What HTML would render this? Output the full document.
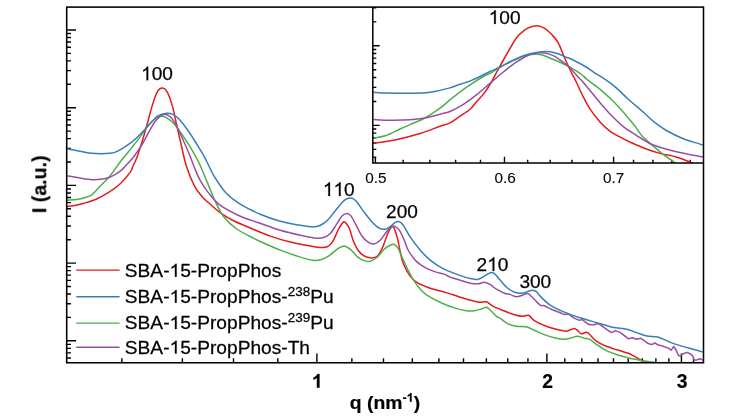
<!DOCTYPE html>
<html><head><meta charset="utf-8"><title>SAXS</title>
<style>html,body{margin:0;padding:0;background:#fff;}body{width:747px;height:420px;overflow:hidden;font-family:"Liberation Sans",sans-serif;}</style></head>
<body>
<svg width="747" height="420" viewBox="0 0 747 420" style="display:block">
<defs><clipPath id="cm"><rect x="66.7" y="7.1" width="636.8" height="355.4"/></clipPath>
<clipPath id="ci"><rect x="372.8" y="7.1" width="330.7" height="155.9"/></clipPath></defs>
<rect x="0" y="0" width="747" height="420" fill="#fff"/>
<path d="M67 30.00 H76 M67 84.31 H71.0 M67 70.63 H71.0 M67 60.92 H71.0 M67 53.39 H71.0 M67 47.24 H71.0 M67 42.04 H71.0 M67 37.53 H71.0 M67 33.56 H71.0 M67 107.70 H76 M67 162.01 H71.0 M67 148.33 H71.0 M67 138.62 H71.0 M67 131.09 H71.0 M67 124.94 H71.0 M67 119.74 H71.0 M67 115.23 H71.0 M67 111.26 H71.0 M67 185.40 H76 M67 239.71 H71.0 M67 226.03 H71.0 M67 216.32 H71.0 M67 208.79 H71.0 M67 202.64 H71.0 M67 197.44 H71.0 M67 192.93 H71.0 M67 188.96 H71.0 M67 263.10 H76 M67 317.41 H71.0 M67 303.73 H71.0 M67 294.02 H71.0 M67 286.49 H71.0 M67 280.34 H71.0 M67 275.14 H71.0 M67 270.63 H71.0 M67 266.66 H71.0 M67 340.80 H76 M67 358.04 H71.0 M67 352.84 H71.0 M67 348.33 H71.0 M67 344.36 H71.0 M121.87 362.75 V358.2 M182.37 362.75 V358.2 M233.51 362.75 V358.2 M277.82 362.75 V358.2 M316.90 362.75 V353.5 M351.86 362.75 V358.2 M383.48 362.75 V358.2 M412.35 362.75 V358.2 M438.91 362.75 V358.2 M463.50 362.75 V358.2 M486.39 362.75 V358.2 M507.81 362.75 V358.2 M527.92 362.75 V358.2 M546.89 362.75 V353.5 M564.83 362.75 V358.2 M581.85 362.75 V358.2 M598.03 362.75 V358.2 M613.47 362.75 V358.2 M628.22 362.75 V358.2 M642.34 362.75 V358.2 M655.88 362.75 V358.2 M668.90 362.75 V358.2 M681.42 362.75 V353.5 M693.49 362.75 V358.2" stroke="#000" stroke-width="1.40" fill="none"/>
<path d="M67.00 206.60 C68.52 206.37 73.25 205.77 76.10 205.20 C78.95 204.63 80.77 204.20 84.10 203.20 C87.43 202.20 92.08 200.97 96.10 199.20 C100.12 197.43 104.18 195.18 108.20 192.60 C112.22 190.02 116.52 187.12 120.20 183.70 C123.88 180.28 128.17 175.05 130.30 172.10 C132.43 169.15 132.00 168.18 133.00 166.00 C134.00 163.82 135.08 162.08 136.30 159.00 C137.52 155.92 138.63 152.80 140.30 147.50 C141.97 142.20 144.28 134.27 146.30 127.20 C148.32 120.13 150.55 111.03 152.40 105.10 C154.25 99.17 155.73 94.45 157.40 91.60 C159.07 88.75 160.73 87.87 162.40 88.00 C164.07 88.13 165.73 89.38 167.40 92.40 C169.07 95.42 170.88 100.80 172.40 106.10 C173.92 111.40 174.98 117.52 176.50 124.20 C178.02 130.88 179.83 139.15 181.50 146.20 C183.17 153.25 184.33 159.85 186.50 166.50 C188.67 173.15 191.82 180.98 194.50 186.10 C197.18 191.22 200.02 194.22 202.60 197.20 C205.18 200.18 207.08 201.43 210.00 204.00 C212.92 206.57 216.42 209.93 220.10 212.60 C223.78 215.27 227.08 217.43 232.10 220.00 C237.12 222.57 243.83 225.32 250.20 228.00 C256.57 230.68 263.60 233.75 270.30 236.10 C277.00 238.45 283.72 240.43 290.40 242.10 C297.08 243.77 305.38 245.20 310.40 246.10 C315.42 247.00 317.48 247.50 320.50 247.50 C323.52 247.50 326.33 247.33 328.50 246.10 C330.67 244.87 331.82 242.95 333.50 240.10 C335.18 237.25 336.92 232.02 338.60 229.00 C340.28 225.98 342.27 222.83 343.60 222.00 C344.93 221.17 345.60 222.83 346.60 224.00 C347.60 225.17 348.52 226.30 349.60 229.00 C350.68 231.70 351.68 236.65 353.10 240.20 C354.52 243.75 356.27 247.68 358.10 250.30 C359.93 252.92 361.92 254.63 364.10 255.90 C366.28 257.17 369.02 257.83 371.20 257.90 C373.38 257.97 375.37 257.90 377.20 256.30 C379.03 254.70 380.78 251.18 382.20 248.30 C383.62 245.42 384.67 241.70 385.70 239.00 C386.73 236.30 387.50 234.02 388.40 232.10 C389.30 230.18 390.38 228.37 391.10 227.50 C391.82 226.63 392.15 226.70 392.70 226.90 C393.25 227.10 393.78 227.38 394.40 228.70 C395.02 230.02 395.77 232.67 396.40 234.80 C397.03 236.93 397.52 238.47 398.20 241.50 C398.88 244.53 399.62 249.25 400.50 253.00 C401.38 256.75 401.90 260.15 403.50 264.00 C405.10 267.85 407.67 272.90 410.10 276.10 C412.53 279.30 414.75 281.18 418.10 283.20 C421.45 285.22 425.52 286.63 430.20 288.20 C434.88 289.77 441.18 291.10 446.20 292.60 C451.22 294.10 455.62 295.77 460.30 297.20 C464.98 298.63 470.95 300.37 474.30 301.20 C477.65 302.03 478.38 302.10 480.40 302.20 C482.42 302.30 484.40 301.18 486.40 301.80 C488.40 302.42 489.73 304.48 492.40 305.90 C495.07 307.32 498.72 308.83 502.40 310.30 C506.08 311.77 511.15 313.70 514.50 314.70 C517.85 315.70 520.15 316.20 522.50 316.30 C524.85 316.40 526.63 314.57 528.60 315.30 C530.57 316.03 531.37 318.88 534.30 320.70 C537.23 322.52 542.22 324.68 546.20 326.20 C550.18 327.72 554.85 328.97 558.20 329.80 C561.55 330.63 564.28 331.20 566.30 331.20 C568.32 331.20 568.97 330.23 570.30 329.80 C571.63 329.37 573.13 328.53 574.30 328.60 C575.47 328.67 576.13 329.33 577.30 330.20 C578.47 331.07 579.80 333.47 581.30 333.80 C582.80 334.13 584.95 332.13 586.30 332.20 C587.65 332.27 587.72 332.70 589.40 334.20 C591.08 335.70 593.57 339.18 596.40 341.20 C599.23 343.22 602.72 344.78 606.40 346.30 C610.08 347.82 614.82 349.13 618.50 350.30 C622.18 351.47 625.83 352.30 628.50 353.30 C631.17 354.30 632.48 355.20 634.50 356.30 C636.52 357.40 638.92 358.97 640.60 359.90 C642.28 360.83 643.08 361.38 644.60 361.90 C646.12 362.42 648.85 362.82 649.70 363.00" fill="none" stroke="#e41a1c" stroke-width="1.50" stroke-linejoin="round" clip-path="url(#cm)"/>
<path d="M67.00 200.20 C68.85 200.03 74.92 199.70 78.10 199.20 C81.28 198.70 83.77 197.97 86.10 197.20 C88.43 196.43 89.75 196.45 92.10 194.60 C94.45 192.75 97.18 189.25 100.20 186.10 C103.22 182.95 106.87 179.72 110.20 175.70 C113.53 171.68 117.02 166.17 120.20 162.00 C123.38 157.83 125.95 154.93 129.30 150.70 C132.65 146.47 137.12 140.85 140.30 136.60 C143.48 132.35 145.88 128.22 148.40 125.20 C150.92 122.18 153.23 120.02 155.40 118.50 C157.57 116.98 159.57 116.23 161.40 116.10 C163.23 115.97 164.22 116.35 166.40 117.70 C168.58 119.05 171.48 120.78 174.50 124.20 C177.52 127.62 181.17 133.18 184.50 138.20 C187.83 143.22 191.92 149.83 194.50 154.30 C197.08 158.77 197.75 160.03 200.00 165.00 C202.25 169.97 205.32 177.73 208.00 184.10 C210.68 190.47 213.42 197.68 216.10 203.20 C218.78 208.72 220.77 212.98 224.10 217.20 C227.43 221.42 231.75 225.28 236.10 228.50 C240.45 231.72 246.18 234.33 250.20 236.50 C254.22 238.67 255.18 239.23 260.20 241.50 C265.22 243.77 273.60 247.50 280.30 250.10 C287.00 252.70 295.05 255.42 300.40 257.10 C305.75 258.78 309.05 259.75 312.40 260.20 C315.75 260.65 317.82 260.48 320.50 259.80 C323.18 259.12 325.75 257.85 328.50 256.10 C331.25 254.35 334.40 250.98 337.00 249.30 C339.60 247.62 341.92 246.02 344.10 246.00 C346.28 245.98 347.77 247.32 350.10 249.20 C352.43 251.08 355.60 255.35 358.10 257.30 C360.60 259.25 363.08 260.23 365.10 260.90 C367.12 261.57 368.18 261.90 370.20 261.30 C372.22 260.70 374.87 259.30 377.20 257.30 C379.53 255.30 382.03 251.32 384.20 249.30 C386.37 247.28 388.53 246.00 390.20 245.20 C391.87 244.40 392.90 244.00 394.20 244.50 C395.50 245.00 396.70 246.08 398.00 248.20 C399.30 250.32 400.32 253.55 402.00 257.20 C403.68 260.85 406.08 266.10 408.10 270.10 C410.12 274.10 411.77 277.68 414.10 281.20 C416.43 284.72 419.42 288.53 422.10 291.20 C424.78 293.87 426.85 295.18 430.20 297.20 C433.55 299.22 438.18 301.52 442.20 303.30 C446.22 305.08 450.28 306.67 454.30 307.90 C458.32 309.13 462.97 310.23 466.30 310.70 C469.63 311.17 471.95 310.93 474.30 310.70 C476.65 310.47 478.38 309.87 480.40 309.30 C482.42 308.73 484.73 307.13 486.40 307.30 C488.07 307.47 488.73 308.80 490.40 310.30 C492.07 311.80 494.80 314.98 496.40 316.30 C498.00 317.62 498.07 316.95 500.00 318.20 C501.93 319.45 505.32 322.47 508.00 323.80 C510.68 325.13 513.08 325.70 516.10 326.20 C519.12 326.70 523.10 326.13 526.10 326.80 C529.10 327.47 531.08 328.90 534.10 330.20 C537.12 331.50 540.52 333.27 544.20 334.60 C547.88 335.93 552.85 337.43 556.20 338.20 C559.55 338.97 561.95 339.20 564.30 339.20 C566.65 339.20 568.13 338.70 570.30 338.20 C572.47 337.70 574.97 336.20 577.30 336.20 C579.63 336.20 582.28 337.70 584.30 338.20 C586.32 338.70 587.38 338.18 589.40 339.20 C591.42 340.22 593.57 342.38 596.40 344.30 C599.23 346.22 602.72 348.87 606.40 350.70 C610.08 352.53 614.82 354.10 618.50 355.30 C622.18 356.50 625.15 357.13 628.50 357.90 C631.85 358.67 635.58 359.33 638.60 359.90 C641.62 360.47 643.42 360.78 646.60 361.30 C649.78 361.82 655.85 362.72 657.70 363.00" fill="none" stroke="#4daf4a" stroke-width="1.50" stroke-linejoin="round" clip-path="url(#cm)"/>
<path d="M67.00 175.80 C69.18 176.18 75.92 177.45 80.10 178.10 C84.28 178.75 88.42 179.53 92.10 179.70 C95.78 179.87 99.18 179.53 102.20 179.10 C105.22 178.67 107.20 178.43 110.20 177.10 C113.20 175.77 117.18 173.43 120.20 171.10 C123.22 168.77 125.95 165.62 128.30 163.10 C130.65 160.58 131.97 159.15 134.30 156.00 C136.63 152.85 139.62 148.67 142.30 144.20 C144.98 139.73 148.05 133.28 150.40 129.20 C152.75 125.12 154.23 122.15 156.40 119.70 C158.57 117.25 161.23 115.10 163.40 114.50 C165.57 113.90 167.55 114.82 169.40 116.10 C171.25 117.38 172.65 119.18 174.50 122.20 C176.35 125.22 178.17 129.18 180.50 134.20 C182.83 139.22 186.17 146.72 188.50 152.30 C190.83 157.88 192.58 163.07 194.50 167.70 C196.42 172.33 197.75 176.03 200.00 180.10 C202.25 184.17 204.65 187.92 208.00 192.10 C211.35 196.28 214.73 201.18 220.10 205.20 C225.47 209.22 233.52 213.18 240.20 216.20 C246.88 219.22 253.52 220.95 260.20 223.30 C266.88 225.65 273.60 228.30 280.30 230.30 C287.00 232.30 294.37 233.97 300.40 235.30 C306.43 236.63 312.48 237.97 316.50 238.30 C320.52 238.63 322.17 238.13 324.50 237.30 C326.83 236.47 328.58 235.32 330.50 233.30 C332.42 231.28 334.08 228.07 336.00 225.20 C337.92 222.33 340.15 218.05 342.00 216.10 C343.85 214.15 345.58 213.50 347.10 213.50 C348.62 213.50 349.60 214.15 351.10 216.10 C352.60 218.05 354.27 221.85 356.10 225.20 C357.93 228.55 360.08 233.37 362.10 236.20 C364.12 239.03 366.18 240.92 368.20 242.20 C370.22 243.48 372.20 244.23 374.20 243.90 C376.20 243.57 378.20 242.15 380.20 240.20 C382.20 238.25 384.37 234.47 386.20 232.20 C388.03 229.93 389.68 227.53 391.20 226.60 C392.72 225.67 393.95 226.00 395.30 226.60 C396.65 227.20 397.80 227.93 399.30 230.20 C400.80 232.47 402.83 236.90 404.30 240.20 C405.77 243.50 406.13 246.52 408.10 250.00 C410.07 253.48 413.10 258.08 416.10 261.10 C419.10 264.12 422.75 266.27 426.10 268.10 C429.45 269.93 433.18 271.10 436.20 272.10 C439.22 273.10 441.87 273.27 444.20 274.10 C446.53 274.93 447.52 276.08 450.20 277.10 C452.88 278.12 456.95 279.18 460.30 280.20 C463.65 281.22 467.28 282.60 470.30 283.20 C473.32 283.80 476.05 283.97 478.40 283.80 C480.75 283.63 482.40 282.07 484.40 282.20 C486.40 282.33 488.40 283.43 490.40 284.60 C492.40 285.77 494.05 287.77 496.40 289.20 C498.75 290.63 502.15 292.30 504.50 293.20 C506.85 294.10 508.50 294.00 510.50 294.60 C512.50 295.20 514.50 296.70 516.50 296.80 C518.50 296.90 520.65 295.73 522.50 295.20 C524.35 294.67 525.92 293.22 527.60 293.60 C529.28 293.98 530.50 295.58 532.60 297.50 C534.70 299.42 538.27 303.73 540.20 305.10 C542.13 306.47 542.20 304.93 544.20 305.70 C546.20 306.47 549.53 308.53 552.20 309.70 C554.87 310.87 558.18 311.90 560.20 312.70 C562.22 313.50 562.95 314.27 564.30 314.50 C565.65 314.73 566.63 313.48 568.30 314.10 C569.97 314.72 572.47 317.18 574.30 318.20 C576.13 319.22 577.97 319.93 579.30 320.20 C580.63 320.47 580.78 319.13 582.30 319.80 C583.82 320.47 586.38 323.40 588.40 324.20 C590.42 325.00 592.73 324.70 594.40 324.60 C596.07 324.50 597.73 323.77 598.40 323.60 L611.40 332.60 L615.50 330.60 L620.50 332.60 L628.50 338.80 L632.50 337.80 L636.50 339.20 L640.60 338.20 L644.60 340.80 L647.00 342.80 L649.70 344.10 L652.40 344.40 L655.00 342.80 L657.70 344.80 L660.40 345.40 L664.40 346.80 L668.40 348.10 L671.10 350.10 L673.80 346.50 L675.80 349.50 L678.50 355.50 L680.50 356.10 L683.10 353.70 L687.20 352.40 L691.20 354.50 L693.20 356.80 L694.10 360.20 L697.20 359.80 L700.50 358.80 L703.20 360.40" fill="none" stroke="#984ea3" stroke-width="1.50" stroke-linejoin="round" clip-path="url(#cm)"/>
<path d="M67.00 148.80 C69.18 149.22 76.08 150.55 80.10 151.30 C84.12 152.05 86.08 152.97 91.10 153.30 C96.12 153.63 105.68 153.70 110.20 153.30 C114.72 152.90 114.85 152.58 118.20 150.90 C121.55 149.22 126.62 145.98 130.30 143.20 C133.98 140.42 136.95 137.53 140.30 134.20 C143.65 130.87 147.38 126.28 150.40 123.20 C153.42 120.12 155.73 117.35 158.40 115.70 C161.07 114.05 164.07 113.57 166.40 113.30 C168.73 113.03 170.38 113.23 172.40 114.10 C174.42 114.97 175.82 115.65 178.50 118.50 C181.18 121.35 184.82 125.90 188.50 131.20 C192.18 136.50 197.68 145.50 200.60 150.30 C203.52 155.10 203.75 155.70 206.00 160.00 C208.25 164.30 210.75 170.58 214.10 176.10 C217.45 181.62 221.75 188.42 226.10 193.10 C230.45 197.78 234.52 200.68 240.20 204.20 C245.88 207.72 253.52 211.37 260.20 214.20 C266.88 217.03 273.60 219.35 280.30 221.20 C287.00 223.05 295.05 224.35 300.40 225.30 C305.75 226.25 309.05 226.90 312.40 226.90 C315.75 226.90 317.82 226.58 320.50 225.30 C323.18 224.02 325.83 221.88 328.50 219.20 C331.17 216.52 333.82 212.37 336.50 209.20 C339.18 206.03 342.17 202.05 344.60 200.20 C347.03 198.35 349.18 197.95 351.10 198.10 C353.02 198.25 353.93 198.77 356.10 201.10 C358.27 203.43 361.42 208.58 364.10 212.10 C366.78 215.62 369.68 219.52 372.20 222.20 C374.72 224.88 377.03 227.03 379.20 228.20 C381.37 229.37 383.37 229.47 385.20 229.20 C387.03 228.93 388.52 227.73 390.20 226.60 C391.88 225.47 393.78 223.23 395.30 222.40 C396.82 221.57 397.97 221.13 399.30 221.60 C400.63 222.07 401.47 222.60 403.30 225.20 C405.13 227.80 407.50 233.07 410.30 237.20 C413.10 241.33 416.78 246.18 420.10 250.00 C423.42 253.82 426.52 257.08 430.20 260.10 C433.88 263.12 437.85 265.77 442.20 268.10 C446.55 270.43 451.62 272.35 456.30 274.10 C460.98 275.85 466.62 277.75 470.30 278.60 C473.98 279.45 476.05 279.62 478.40 279.20 C480.75 278.78 482.40 277.18 484.40 276.10 C486.40 275.02 488.73 273.10 490.40 272.70 C492.07 272.30 492.90 272.62 494.40 273.70 C495.90 274.78 497.38 276.95 499.40 279.20 C501.42 281.45 503.98 285.03 506.50 287.20 C509.02 289.37 511.83 291.20 514.50 292.20 C517.17 293.20 520.15 293.37 522.50 293.20 C524.85 293.03 526.92 291.70 528.60 291.20 C530.28 290.70 531.27 290.10 532.60 290.20 C533.93 290.30 535.33 290.82 536.60 291.80 C537.87 292.78 537.93 293.88 540.20 296.10 C542.47 298.32 546.18 302.43 550.20 305.10 C554.22 307.77 559.28 309.98 564.30 312.10 C569.32 314.22 574.95 316.05 580.30 317.80 C585.65 319.55 591.05 321.03 596.40 322.60 C601.75 324.17 607.38 326.10 612.40 327.20 C617.42 328.30 622.48 328.30 626.50 329.20 C630.52 330.10 633.08 331.45 636.50 332.60 C639.92 333.75 643.47 335.35 647.00 336.10 C650.53 336.85 653.90 336.10 657.70 337.10 C661.50 338.10 665.78 340.60 669.80 342.10 C673.82 343.60 677.78 344.87 681.80 346.10 C685.82 347.33 690.33 348.50 693.90 349.50 C697.47 350.50 701.65 351.67 703.20 352.10" fill="none" stroke="#377eb8" stroke-width="1.50" stroke-linejoin="round" clip-path="url(#cm)"/>
<rect x="372.8" y="7.1" width="330.7" height="155.9" fill="#fff"/>
<path d="M373 21.84 H376.3 M373 7.82 H376.3 M373 45.80 H379.7 M373 101.44 H376.3 M373 87.42 H376.3 M373 77.48 H376.3 M373 69.76 H376.3 M373 63.46 H376.3 M373 58.13 H376.3 M373 53.51 H376.3 M373 49.44 H376.3 M373 125.40 H379.7 M373 157.08 H376.3 M373 149.36 H376.3 M373 143.06 H376.3 M373 137.73 H376.3 M373 133.11 H376.3 M373 129.04 H376.3 M375.40 163 V156.7 M403.16 163 V159.8 M429.88 163 V159.8 M455.63 163 V159.8 M480.47 163 V159.8 M504.47 163 V156.7 M527.68 163 V159.8 M550.15 163 V159.8 M571.94 163 V159.8 M593.07 163 V159.8 M613.59 163 V156.7 M633.53 163 V159.8 M652.93 163 V159.8 M671.81 163 V159.8 M690.19 163 V159.8" stroke="#000" stroke-width="1.40" fill="none"/>
<path d="M373.50 143.20 C377.08 142.67 387.25 141.62 395.00 140.00 C402.75 138.38 412.50 135.78 420.00 133.50 C427.50 131.22 435.00 128.08 440.00 126.30 C445.00 124.52 446.65 124.48 450.00 122.80 C453.35 121.12 456.75 118.47 460.10 116.20 C463.45 113.93 467.43 111.53 470.10 109.20 C472.77 106.87 473.75 104.88 476.10 102.20 C478.45 99.52 481.80 96.22 484.20 93.10 C486.60 89.98 488.18 87.43 490.50 83.50 C492.82 79.57 495.80 73.67 498.10 69.50 C500.40 65.33 501.28 63.72 504.30 58.50 C507.32 53.28 512.72 43.00 516.20 38.20 C519.68 33.40 522.53 31.65 525.20 29.70 C527.87 27.75 530.18 27.17 532.20 26.50 C534.22 25.83 535.28 25.43 537.30 25.70 C539.32 25.97 541.80 26.53 544.30 28.10 C546.80 29.67 549.95 32.58 552.30 35.10 C554.65 37.62 556.38 39.47 558.40 43.20 C560.42 46.93 562.40 52.95 564.40 57.50 C566.40 62.05 568.38 66.33 570.40 70.50 C572.42 74.67 574.52 78.42 576.50 82.50 C578.48 86.58 580.03 90.55 582.30 95.00 C584.57 99.45 587.12 104.67 590.10 109.20 C593.08 113.73 596.85 118.52 600.20 122.20 C603.55 125.88 606.87 128.80 610.20 131.30 C613.53 133.80 616.85 135.38 620.20 137.20 C623.55 139.02 625.83 140.20 630.30 142.20 C634.77 144.20 641.88 147.30 647.00 149.20 C652.12 151.10 656.00 152.27 661.00 153.60 C666.00 154.93 671.58 155.55 677.00 157.20 C682.42 158.85 690.75 162.45 693.50 163.50" fill="none" stroke="#e41a1c" stroke-width="1.50" stroke-linejoin="round" clip-path="url(#ci)"/>
<path d="M373.50 138.20 C375.58 137.75 381.58 137.03 386.00 135.50 C390.42 133.97 395.67 130.97 400.00 129.00 C404.33 127.03 407.83 125.53 412.00 123.70 C416.17 121.87 420.33 120.58 425.00 118.00 C429.67 115.42 435.50 111.50 440.00 108.20 C444.50 104.90 447.32 101.88 452.00 98.20 C456.68 94.52 462.73 89.80 468.10 86.10 C473.47 82.40 480.53 78.13 484.20 76.00 C487.87 73.87 487.12 74.97 490.10 73.30 C493.08 71.63 497.75 68.45 502.10 66.00 C506.45 63.55 511.85 60.47 516.20 58.60 C520.55 56.73 524.85 55.53 528.20 54.80 C531.55 54.07 533.95 54.17 536.30 54.20 C538.65 54.23 539.97 54.33 542.30 55.00 C544.63 55.67 547.35 57.00 550.30 58.20 C553.25 59.40 556.72 60.70 560.00 62.20 C563.28 63.70 566.67 65.33 570.00 67.20 C573.33 69.07 577.32 71.50 580.00 73.40 C582.68 75.30 584.02 76.90 586.10 78.60 C588.18 80.30 589.82 81.52 592.50 83.60 C595.18 85.68 598.58 88.00 602.20 91.10 C605.82 94.20 610.52 98.52 614.20 102.20 C617.88 105.88 620.95 109.35 624.30 113.20 C627.65 117.05 632.02 122.42 634.30 125.30 C636.58 128.18 636.67 128.67 638.00 130.50 C639.33 132.33 640.25 134.13 642.30 136.30 C644.35 138.47 646.97 140.60 650.30 143.50 C653.63 146.40 658.02 150.37 662.30 153.70 C666.58 157.03 673.72 161.87 676.00 163.50" fill="none" stroke="#4daf4a" stroke-width="1.50" stroke-linejoin="round" clip-path="url(#ci)"/>
<path d="M373.50 119.50 C376.25 119.62 383.92 120.15 390.00 120.20 C396.08 120.25 404.17 120.17 410.00 119.80 C415.83 119.43 420.00 118.93 425.00 118.00 C430.00 117.07 435.83 115.28 440.00 114.20 C444.17 113.12 446.32 113.00 450.00 111.50 C453.68 110.00 457.75 107.93 462.10 105.20 C466.45 102.47 471.42 98.78 476.10 95.10 C480.78 91.42 485.87 86.78 490.20 83.10 C494.53 79.42 497.77 76.48 502.10 73.00 C506.43 69.52 511.85 65.17 516.20 62.20 C520.55 59.23 524.52 56.77 528.20 55.20 C531.88 53.63 535.28 53.13 538.30 52.80 C541.32 52.47 543.63 52.63 546.30 53.20 C548.97 53.77 551.95 55.03 554.30 56.20 C556.65 57.37 558.05 58.52 560.40 60.20 C562.75 61.88 566.47 64.67 568.40 66.30 C570.33 67.93 570.33 68.17 572.00 70.00 C573.67 71.83 576.72 75.45 578.40 77.30 C580.08 79.15 579.82 78.47 582.10 81.10 C584.38 83.73 588.75 89.08 592.10 93.10 C595.45 97.12 598.85 101.35 602.20 105.20 C605.55 109.05 608.52 112.52 612.20 116.20 C615.88 119.88 620.28 124.12 624.30 127.30 C628.32 130.48 632.15 132.65 636.30 135.30 C640.45 137.95 644.42 140.95 649.20 143.20 C653.98 145.45 659.87 147.25 665.00 148.80 C670.13 150.35 673.67 151.12 680.00 152.50 C686.33 153.88 699.17 156.33 703.00 157.10" fill="none" stroke="#984ea3" stroke-width="1.50" stroke-linejoin="round" clip-path="url(#ci)"/>
<path d="M373.50 92.20 C375.58 92.35 380.92 92.93 386.00 93.10 C391.08 93.27 398.00 93.20 404.00 93.20 C410.00 93.20 416.67 93.42 422.00 93.10 C427.33 92.78 431.33 92.17 436.00 91.30 C440.67 90.43 446.65 88.83 450.00 87.90 C453.35 86.97 452.42 87.00 456.10 85.70 C459.78 84.40 466.45 82.47 472.10 80.10 C477.75 77.73 485.32 73.68 490.00 71.50 C494.68 69.32 496.83 68.58 500.20 67.00 C503.57 65.42 507.52 63.30 510.20 62.00 C512.88 60.70 513.97 60.30 516.30 59.20 C518.63 58.10 520.87 56.53 524.20 55.40 C527.53 54.27 532.45 53.03 536.30 52.40 C540.15 51.77 543.97 51.47 547.30 51.60 C550.63 51.73 553.12 52.27 556.30 53.20 C559.48 54.13 563.43 55.98 566.40 57.20 C569.37 58.42 570.82 58.87 574.10 60.50 C577.38 62.13 582.70 64.95 586.10 67.00 C589.50 69.05 592.15 71.28 594.50 72.80 C596.85 74.32 596.92 73.88 600.20 76.10 C603.48 78.32 609.52 82.25 614.20 86.10 C618.88 89.95 623.62 95.02 628.30 99.20 C632.98 103.38 637.95 107.37 642.30 111.20 C646.65 115.03 650.40 118.98 654.40 122.20 C658.40 125.42 661.28 127.65 666.30 130.50 C671.32 133.35 679.12 137.12 684.50 139.30 C689.88 141.48 695.52 142.63 698.60 143.60 C701.68 144.57 702.27 144.85 703.00 145.10" fill="none" stroke="#377eb8" stroke-width="1.50" stroke-linejoin="round" clip-path="url(#ci)"/>
<path d="M372.8 7.1 V163 H703.5" stroke="#000" stroke-width="1.5" fill="none"/>
<rect x="66.7" y="7.1" width="636.8" height="355.65" fill="none" stroke="#000" stroke-width="1.55"/>
<path d="M76.2 270.10 H119.6" stroke="#e41a1c" stroke-width="1.45"/>
<path d="M76.2 296.80 H119.6" stroke="#377eb8" stroke-width="1.45"/>
<path d="M76.2 323.10 H119.6" stroke="#4daf4a" stroke-width="1.45"/>
<path d="M76.2 347.20 H119.6" stroke="#984ea3" stroke-width="1.45"/>
<g opacity="0.999">
<g transform="translate(124.80 276.70) scale(1.0700 1)" fill="#000" stroke="#000" stroke-width="0.25" stroke-linejoin="round">
<path d="M763 0H583V1147Q518 1085 412.5 1023Q307 961 223 930V1104Q374 1175 487 1276Q600 1377 647 1472H763Z" transform="translate(41.78 0.00) scale(0.00874 -0.00874)" stroke-width="28.6"/>
<text x="0.00 11.94 23.88 35.82 51.73 61.69 67.65 79.59 85.55 95.50 105.46 117.40 127.35 137.31" y="0.00" font-family="Liberation Sans, sans-serif" font-size="17.90">SBA-5-PropPhos</text>
</g>
<g transform="translate(124.80 302.80) scale(1.0700 1)" fill="#000" stroke="#000" stroke-width="0.25" stroke-linejoin="round">
<path d="M763 0H583V1147Q518 1085 412.5 1023Q307 961 223 930V1104Q374 1175 487 1276Q600 1377 647 1472H763Z" transform="translate(41.78 0.00) scale(0.00874 -0.00874)" stroke-width="28.6"/>
<text x="0.00 11.94 23.88 35.82 51.73 61.69 67.65 79.59 85.55 95.50 105.46 117.40 127.35 137.31 146.26" y="0.00" font-family="Liberation Sans, sans-serif" font-size="17.90">SBA-5-PropPhos-</text>
<text x="152.22 159.23 166.23" y="-7.00" font-family="Liberation Sans, sans-serif" font-size="12.60">238</text>
<text x="173.24 185.18" y="0.00" font-family="Liberation Sans, sans-serif" font-size="17.90">Pu</text>
</g>
<g transform="translate(124.80 329.00) scale(1.0700 1)" fill="#000" stroke="#000" stroke-width="0.25" stroke-linejoin="round">
<path d="M763 0H583V1147Q518 1085 412.5 1023Q307 961 223 930V1104Q374 1175 487 1276Q600 1377 647 1472H763Z" transform="translate(41.78 0.00) scale(0.00874 -0.00874)" stroke-width="28.6"/>
<text x="0.00 11.94 23.88 35.82 51.73 61.69 67.65 79.59 85.55 95.50 105.46 117.40 127.35 137.31 146.26" y="0.00" font-family="Liberation Sans, sans-serif" font-size="17.90">SBA-5-PropPhos-</text>
<text x="152.22 159.23 166.23" y="-7.00" font-family="Liberation Sans, sans-serif" font-size="12.60">239</text>
<text x="173.24 185.18" y="0.00" font-family="Liberation Sans, sans-serif" font-size="17.90">Pu</text>
</g>
<g transform="translate(124.80 353.50) scale(1.0700 1)" fill="#000" stroke="#000" stroke-width="0.25" stroke-linejoin="round">
<path d="M763 0H583V1147Q518 1085 412.5 1023Q307 961 223 930V1104Q374 1175 487 1276Q600 1377 647 1472H763Z" transform="translate(41.78 0.00) scale(0.00874 -0.00874)" stroke-width="28.6"/>
<text x="0.00 11.94 23.88 35.82 51.73 61.69 67.65 79.59 85.55 95.50 105.46 117.40 127.35 137.31 146.26 152.22 163.15" y="0.00" font-family="Liberation Sans, sans-serif" font-size="17.90">SBA-5-PropPhos-Th</text>
</g>
<g transform="translate(157.00 80.30) scale(1.0000 1)" fill="#000" stroke="#000" stroke-width="0.25" stroke-linejoin="round">
<path d="M763 0H583V1147Q518 1085 412.5 1023Q307 961 223 930V1104Q374 1175 487 1276Q600 1377 647 1472H763Z" transform="translate(-15.93 0.00) scale(0.00933 -0.00933)" stroke-width="26.8"/>
<text x="-5.31 5.31" y="0.00" font-family="Liberation Sans, sans-serif" font-size="19.10">00</text>
</g>
<g transform="translate(338.80 195.90) scale(1.0000 1)" fill="#000" stroke="#000" stroke-width="0.25" stroke-linejoin="round">
<path d="M763 0H583V1147Q518 1085 412.5 1023Q307 961 223 930V1104Q374 1175 487 1276Q600 1377 647 1472H763Z" transform="translate(-15.93 0.00) scale(0.00933 -0.00933)" stroke-width="26.8"/>
<path d="M763 0H583V1147Q518 1085 412.5 1023Q307 961 223 930V1104Q374 1175 487 1276Q600 1377 647 1472H763Z" transform="translate(-5.31 0.00) scale(0.00933 -0.00933)" stroke-width="26.8"/>
<text x="5.31" y="0.00" font-family="Liberation Sans, sans-serif" font-size="19.10">0</text>
</g>
<g transform="translate(402.00 218.40) scale(1.0000 1)" fill="#000" stroke="#000" stroke-width="0.25" stroke-linejoin="round">
<text x="-15.93 -5.31 5.31" y="0.00" font-family="Liberation Sans, sans-serif" font-size="19.10">200</text>
</g>
<g transform="translate(492.50 270.90) scale(1.0000 1)" fill="#000" stroke="#000" stroke-width="0.25" stroke-linejoin="round">
<path d="M763 0H583V1147Q518 1085 412.5 1023Q307 961 223 930V1104Q374 1175 487 1276Q600 1377 647 1472H763Z" transform="translate(-5.31 0.00) scale(0.00933 -0.00933)" stroke-width="26.8"/>
<text x="-15.93 5.31" y="0.00" font-family="Liberation Sans, sans-serif" font-size="19.10">20</text>
</g>
<g transform="translate(535.30 287.80) scale(1.0000 1)" fill="#000" stroke="#000" stroke-width="0.25" stroke-linejoin="round">
<text x="-15.93 -5.31 5.31" y="0.00" font-family="Liberation Sans, sans-serif" font-size="19.10">300</text>
</g>
<g transform="translate(504.60 23.90) scale(1.0000 1)" fill="#000" stroke="#000" stroke-width="0.25" stroke-linejoin="round">
<path d="M763 0H583V1147Q518 1085 412.5 1023Q307 961 223 930V1104Q374 1175 487 1276Q600 1377 647 1472H763Z" transform="translate(-15.93 0.00) scale(0.00933 -0.00933)" stroke-width="26.8"/>
<text x="-5.31 5.31" y="0.00" font-family="Liberation Sans, sans-serif" font-size="19.10">00</text>
</g>
<g transform="translate(375.90 182.70) scale(1.0000 1)" fill="#000" stroke="#000" stroke-width="0.10" stroke-linejoin="round">
<text x="-10.63 -2.13 2.13" y="0.00" font-family="Liberation Sans, sans-serif" font-size="15.30">0.5</text>
</g>
<g transform="translate(505.00 182.70) scale(1.0000 1)" fill="#000" stroke="#000" stroke-width="0.10" stroke-linejoin="round">
<text x="-10.63 -2.13 2.13" y="0.00" font-family="Liberation Sans, sans-serif" font-size="15.30">0.6</text>
</g>
<g transform="translate(613.60 182.70) scale(1.0000 1)" fill="#000" stroke="#000" stroke-width="0.10" stroke-linejoin="round">
<text x="-10.63 -2.13 2.13" y="0.00" font-family="Liberation Sans, sans-serif" font-size="15.30">0.7</text>
</g>
<g transform="translate(317.30 387.80) scale(1.0000 1)" fill="#000" stroke="#000" stroke-width="0.20" stroke-linejoin="round">
<path d="M806 0H525V1059Q371 915 162 846V1101Q272 1137 401 1237.5Q530 1338 578 1472H806Z" transform="translate(-5.37 0.00) scale(0.00942 -0.00942)" stroke-width="21.2"/>
</g>
<g transform="translate(547.70 387.80) scale(1.0000 1)" fill="#000" stroke="#000" stroke-width="0.20" stroke-linejoin="round">
<text x="-5.37" y="0.00" font-family="Liberation Sans, sans-serif" font-size="19.30" font-weight="bold">2</text>
</g>
<g transform="translate(682.00 387.80) scale(1.0000 1)" fill="#000" stroke="#000" stroke-width="0.20" stroke-linejoin="round">
<text x="-5.37" y="0.00" font-family="Liberation Sans, sans-serif" font-size="19.30" font-weight="bold">3</text>
</g>
<g transform="translate(349.80 409.00) scale(1.0250 1)" fill="#000" stroke="#000" stroke-width="0.20" stroke-linejoin="round">
<path d="M806 0H525V1059Q371 915 162 846V1101Q272 1137 401 1237.5Q530 1338 578 1472H806Z" transform="translate(55.50 -7.30) scale(0.00596 -0.00596)" stroke-width="33.6"/>
<text x="0.00 16.80 23.09 34.63" y="0.00" font-family="Liberation Sans, sans-serif" font-size="18.90" font-weight="bold">q(nm</text>
<text x="51.44" y="-7.30" font-family="Liberation Sans, sans-serif" font-size="12.20" font-weight="bold">-</text>
<text x="62.29" y="0.00" font-family="Liberation Sans, sans-serif" font-size="18.90" font-weight="bold">)</text>
</g>
<g transform="translate(46.30 213.20) rotate(-90) scale(1.0000 1)" fill="#000" stroke="#000" stroke-width="0.20" stroke-linejoin="round">
<text x="0.00 10.89 17.42 28.32 33.76 45.74 51.18" y="0.00" font-family="Liberation Sans, sans-serif" font-size="19.60" font-weight="bold">I(a.u.)</text>
</g>
</g>
</svg>
</body></html>
